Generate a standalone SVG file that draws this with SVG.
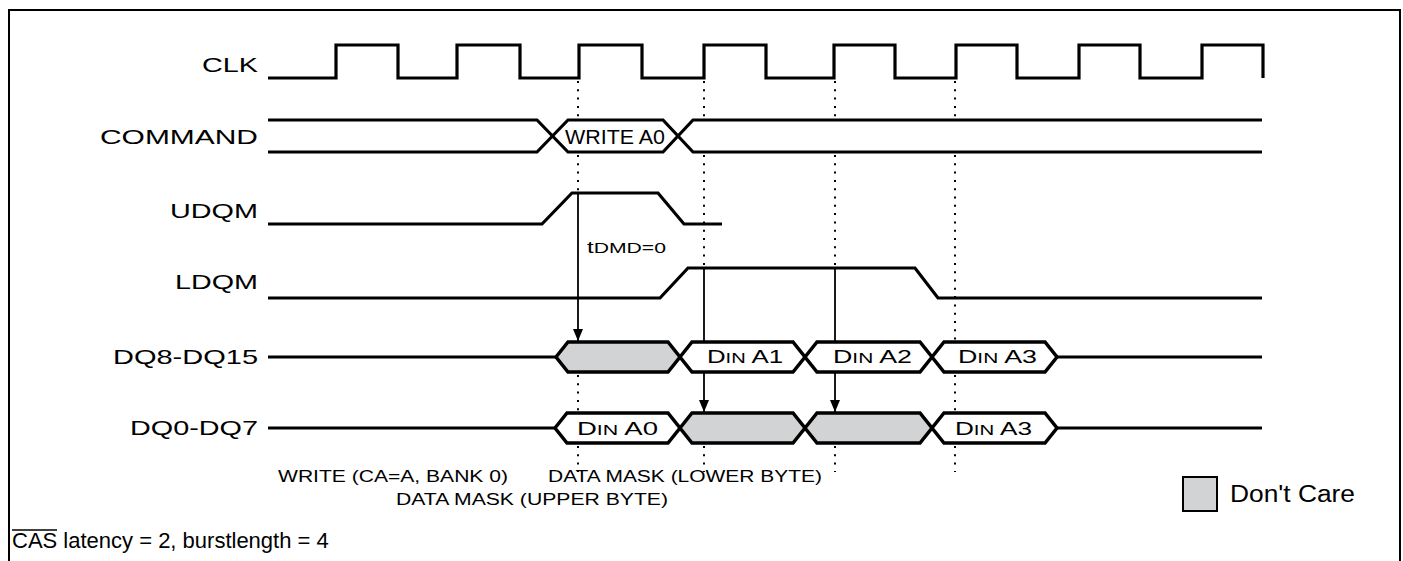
<svg xmlns="http://www.w3.org/2000/svg" width="1403" height="561" viewBox="0 0 1403 561">
<style>
.sig{fill:none;stroke:#000;stroke-width:3.2;stroke-linejoin:miter;stroke-linecap:butt}
.bus{stroke:#000;stroke-width:3.5;stroke-linejoin:miter}
.w{fill:#fff}
.g{fill:#d1d3d4}
.dot{stroke:#000;stroke-width:2;stroke-dasharray:2 6.3;fill:none}
.arr{stroke:#000;stroke-width:1.8;fill:none}
text{font-family:"Liberation Sans",Arial,Helvetica,sans-serif;fill:#000}
.lbl{font-size:21px}
.sm{font-size:16px}
</style>
<defs>
<marker id="ah" viewBox="0 0 12 10" refX="12" refY="5" markerWidth="12" markerHeight="10" markerUnits="userSpaceOnUse" orient="auto"><path d="M0,0 L12,5 L0,10 z" fill="#000"/></marker>
</defs>
<rect width="1403" height="561" fill="#fff"/>
<path d="M9,561 V10 H1400 V561" fill="none" stroke="#000" stroke-width="2"/>

<g id="connectors">
<path class="dot" d="M578,81 V118 M578,155 V191 M578,375 V411 M578,446 V472"/>
<path class="dot" d="M704,81 V118 M704,155 V266 M704,446 V472"/>
<path class="dot" d="M835,81 V118 M835,155 V266 M835,446 V472"/>
<path class="dot" d="M955,81 V118 M955,155 V340 M955,375 V411 M955,446 V472"/>
<line class="arr" x1="578" y1="193" x2="578" y2="341" marker-end="url(#ah)"/>
<line class="arr" x1="704" y1="268" x2="704" y2="412" marker-end="url(#ah)"/>
<line class="arr" x1="835" y1="268" x2="835" y2="412" marker-end="url(#ah)"/>
</g>

<g id="clk">
<text class="lbl" x="202" y="72" textLength="56" lengthAdjust="spacingAndGlyphs">CLK</text>
<path class="sig" d="M268,78 H336 V45 H398 V78 H457 V45 H520 V78 H579 V45 H642 V78 H704 V45 H766 V78 H834 V45 H895 V78 H956 V45 H1017 V78 H1079 V45 H1140 V78 H1202 V45 H1263 V78"/>
</g>

<g id="command">
<text class="lbl" x="100" y="144" textLength="158" lengthAdjust="spacingAndGlyphs">COMMAND</text>
<path class="sig" d="M268,120 H537 L568,152 H663 L693,120 H1262 M268,152 H537 L568,120 H663 L693,152 H1262"/>
<text x="565" y="144" font-size="19.5" textLength="100" lengthAdjust="spacingAndGlyphs">WRITE A0</text>
</g>

<g id="udqm">
<text class="lbl" x="170" y="218" textLength="88" lengthAdjust="spacingAndGlyphs">UDQM</text>
<path class="sig" d="M268,224 H542 L572,193 H658 L684,224 H722"/>
<text x="587" y="253" textLength="79" lengthAdjust="spacingAndGlyphs"><tspan font-size="17">t</tspan><tspan font-size="15">DMD=0</tspan></text>
</g>

<g id="ldqm">
<text class="lbl" x="175" y="289" textLength="83" lengthAdjust="spacingAndGlyphs">LDQM</text>
<path class="sig" d="M268,298 H660 L688,268 H915 L938,298 H1262"/>
</g>

<g id="dq8">
<text class="lbl" x="113" y="364" textLength="145" lengthAdjust="spacingAndGlyphs">DQ8-DQ15</text>
<path class="sig" d="M268,357 H556 M1057,357 H1262"/>
<polygon class="bus g" points="556,357 568,342 668,342 680,357 668,372 568,372"/>
<polygon class="bus w" points="680,357 692,342 793,342 805,357 793,372 692,372"/>
<polygon class="bus w" points="805,357 817,342 920,342 932,357 920,372 817,372"/>
<polygon class="bus w" points="932,357 944,342 1045,342 1057,357 1045,372 944,372"/>
<text x="707" y="363" font-size="18" textLength="76" lengthAdjust="spacingAndGlyphs">D<tspan font-size="14">IN</tspan> A1</text>
<text x="833" y="363" font-size="18" textLength="79" lengthAdjust="spacingAndGlyphs">D<tspan font-size="14">IN</tspan> A2</text>
<text x="958" y="363" font-size="18" textLength="79" lengthAdjust="spacingAndGlyphs">D<tspan font-size="14">IN</tspan> A3</text>
</g>

<g id="dq0">
<text class="lbl" x="130" y="435" textLength="128" lengthAdjust="spacingAndGlyphs">DQ0-DQ7</text>
<path class="sig" d="M268,428 H555 M1057,428 H1262"/>
<polygon class="bus w" points="555,428 567,413 668,413 680,428 668,443 567,443"/>
<polygon class="bus g" points="680,428 692,413 793,413 805,428 793,443 692,443"/>
<polygon class="bus g" points="805,428 817,413 920,413 932,428 920,443 817,443"/>
<polygon class="bus w" points="932,428 944,413 1045,413 1057,428 1045,443 944,443"/>
<text x="577" y="435" font-size="18" textLength="81" lengthAdjust="spacingAndGlyphs">D<tspan font-size="14">IN</tspan> A0</text>
<text x="955" y="435" font-size="18" textLength="77" lengthAdjust="spacingAndGlyphs">D<tspan font-size="14">IN</tspan> A3</text>
</g>

<g id="notes">
<text class="sm" x="278" y="482" textLength="230" lengthAdjust="spacingAndGlyphs">WRITE (CA=A, BANK 0)</text>
<text class="sm" x="548" y="482" textLength="274" lengthAdjust="spacingAndGlyphs">DATA MASK (LOWER BYTE)</text>
<text class="sm" x="396" y="505" textLength="272" lengthAdjust="spacingAndGlyphs">DATA MASK (UPPER BYTE)</text>
</g>

<g id="legend">
<rect x="1183" y="477" width="34" height="34" fill="#d1d3d4" stroke="#000" stroke-width="2"/>
<text x="1230" y="502" font-size="23" textLength="125" lengthAdjust="spacingAndGlyphs">Don't Care</text>
</g>

<g id="footnote">
<text x="12" y="548" font-size="22">CAS latency = 2, burstlength = 4</text>
<line x1="12" y1="530" x2="57" y2="530" stroke="#000" stroke-width="1.5"/>
</g>
</svg>
